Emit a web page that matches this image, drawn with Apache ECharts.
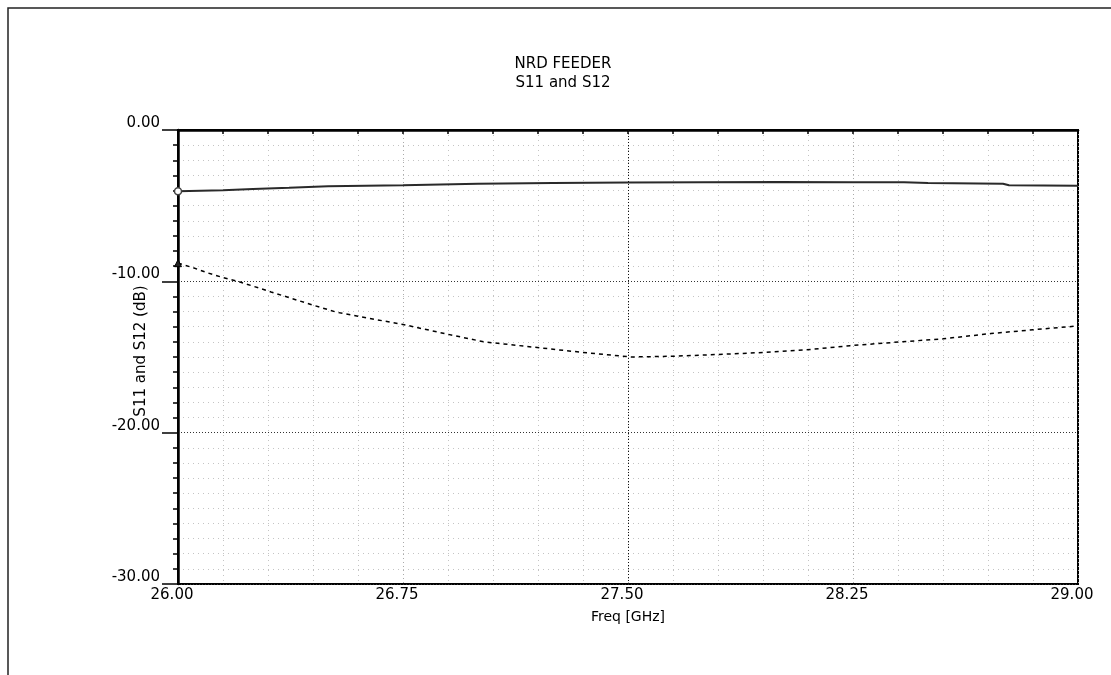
<!DOCTYPE html>
<html><head><meta charset="utf-8">
<script src="https://cdn.jsdelivr.net/npm/echarts@6/dist/echarts.min.js"></script>
<style>html,body{margin:0;padding:0;background:#fff}#c{width:1111px;height:675px}</style>
</head><body><div id="c"></div>
<script>
const titleLines = ['NRD FEEDER', 'S11 and S12'];
const xName = 'Freq [GHz]';
const yName = 'S11 and S12 (dB)';
const xTickLabels = [26.00, 26.75, 27.50, 28.25, 29.00];
const yTickLabels = [0.00, -10.00, -20.00, -30.00];
// S12 (solid)
const s12Freq = [26.00, 26.15, 26.25, 26.37, 26.50, 26.75, 27.00, 27.25, 27.50, 27.75, 28.00, 28.25, 28.42, 28.50, 28.75, 28.77, 29.00];
const s12Vals = [-4.05, -3.98, -3.90, -3.82, -3.72, -3.65, -3.55, -3.50, -3.47, -3.45, -3.44, -3.45, -3.45, -3.50, -3.55, -3.65, -3.68];
// S11 (dashed)
const s11Freq = [26.00, 26.05, 26.10, 26.15, 26.20, 26.31, 26.43, 26.53, 26.60, 26.68, 26.75, 26.90, 27.02, 27.21, 27.35, 27.51, 27.65, 27.84, 27.95, 28.11, 28.24, 28.41, 28.55, 28.71, 28.85, 29.00];
const s11Vals = [-8.80, -9.10, -9.45, -9.75, -10.00, -10.70, -11.45, -12.05, -12.30, -12.60, -12.85, -13.50, -14.00, -14.40, -14.70, -15.00, -14.95, -14.80, -14.70, -14.50, -14.25, -14.00, -13.80, -13.45, -13.20, -12.95];
const refLineX = [27.50];

const FONT = 'DejaVu Sans';
const chart = echarts.init(document.getElementById('c'), null, {renderer: 'canvas'});

function build(freq, vals, sym) {
  return freq.map((f, i) => i === 0
    ? {value: [f, vals[i]], symbol: sym, symbolSize: 7}
    : {value: [f, vals[i]], symbol: 'none'});
}

chart.setOption({
  backgroundColor: '#fff',
  animation: false,
  title: {
    text: titleLines.join('\n'),
    left: 558,
    top: 50,
    textAlign: 'center',
    textStyle: {fontFamily: FONT, fontSize: 15, fontWeight: 'normal', color: '#000', lineHeight: 19}
  },
  graphic: [{
    type: 'polyline',
    shape: {points: [[8, 675], [8, 8], [1111, 8]]},
    style: {stroke: '#222', lineWidth: 1.5, fill: null}
  }],
  grid: {left: 178, right: 33, top: 130, bottom: 91, show: true, borderColor: '#000', borderWidth: 2, backgroundColor: 'transparent'},
  xAxis: {
    type: 'value',
    min: xTickLabels[0], max: xTickLabels[xTickLabels.length - 1],
    interval: xTickLabels[1] - xTickLabels[0],
    name: xName, nameLocation: 'middle', nameGap: 26, nameMoveOverlap: false,
    nameTextStyle: {fontFamily: FONT, fontSize: 14, color: '#000'},
    axisLine: {show: true, lineStyle: {color: '#000', width: 2.5}},
    axisTick: {show: true, length: 4, lineStyle: {color: '#000', width: 1.5}},
    minorTick: {show: true, splitNumber: 5, length: 4, lineStyle: {color: '#000', width: 1.5}},
    axisLabel: {fontFamily: FONT, fontSize: 15, color: '#000', margin: 4, padding: [0, 12, 0, 0],
      formatter: v => v.toFixed(2)},
    splitLine: {show: true, lineStyle: {color: '#aaa', width: 1, type: [1, 3]}},
    minorSplitLine: {show: true, lineStyle: {color: '#c4c4c4', width: 1, type: [1, 4]}}
  },
  yAxis: {
    type: 'value',
    min: yTickLabels[yTickLabels.length - 1], max: yTickLabels[0],
    interval: yTickLabels[0] - yTickLabels[1],
    name: yName, nameLocation: 'middle', nameGap: 29, nameMoveOverlap: false,
    nameTextStyle: {fontFamily: FONT, fontSize: 15, color: '#000', padding: [0, 0, 0, 12]},
    axisLine: {show: true, lineStyle: {color: '#000', width: 2.5}},
    axisTick: {show: true, length: 16, lineStyle: {color: '#000', width: 1.5}},
    minorTick: {show: true, splitNumber: 10, length: 5, lineStyle: {color: '#000', width: 1.5}},
    axisLabel: {fontFamily: FONT, fontSize: 15, color: '#000', margin: 18, verticalAlign: 'bottom', lineHeight: 14,
      formatter: v => v.toFixed(2)},
    splitLine: {show: true, lineStyle: {color: '#333', width: 1, type: [1, 2]}},
    minorSplitLine: {show: true, lineStyle: {color: '#c4c4c4', width: 1, type: [1, 4]}}
  },
  series: [
    {
      name: 'S12', type: 'line', data: build(s12Freq, s12Vals, 'circle'),
      showSymbol: true, symbol: 'none',
      lineStyle: {color: '#2a2a2a', width: 2},
      itemStyle: {color: '#fff', borderColor: '#444', borderWidth: 1.5},
      markLine: {
        silent: true, symbol: 'none', label: {show: false},
        lineStyle: {color: '#111', width: 1, type: [1, 2]},
        data: refLineX.map(v => ({xAxis: v}))
      }
    },
    {
      name: 'S11', type: 'line', data: build(s11Freq, s11Vals, 'triangle'),
      showSymbol: true, symbol: 'none',
      lineStyle: {color: '#000', width: 1.5, type: [4, 4]},
      itemStyle: {color: '#222', borderColor: '#000', borderWidth: 1}
    }
  ]
});
</script>
</body></html>
